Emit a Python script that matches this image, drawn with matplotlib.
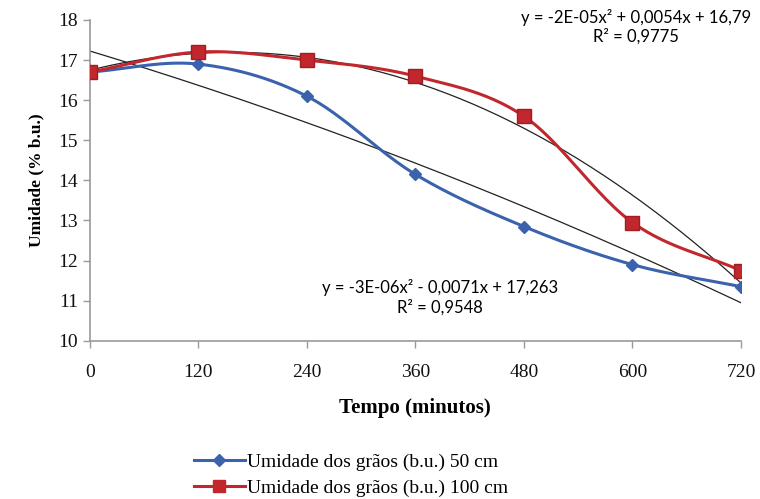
import numpy as np
import matplotlib
matplotlib.use("Agg")
import matplotlib.pyplot as plt
from matplotlib.lines import Line2D

tempo = [0, 120, 240, 360, 480, 600, 720]
umid_50 = [16.7, 16.9, 16.1, 14.15, 12.85, 11.9, 11.35]
umid_100 = [16.7, 17.2, 17.0, 16.6, 15.6, 12.95, 11.75]
eq_50 = "y = -3E-06x² - 0,0071x + 17,263\nR² = 0,9548"
eq_100 = "y = -2E-05x² + 0,0054x + 16,79\nR² = 0,9775"
lab_50 = "Umidade dos grãos (b.u.) 50 cm"
lab_100 = "Umidade dos grãos (b.u.) 100 cm"

BLUE = "#3b62ad"
RED = "#c1272d"


def smooth(x, y, n=30):
    # catmull-rom style smoothing, like Excel's "smoothed line"
    x = np.asarray(x, float); y = np.asarray(y, float)
    px = np.concatenate([[2 * x[0] - x[1]], x, [2 * x[-1] - x[-2]]])
    py = np.concatenate([[2 * y[0] - y[1]], y, [2 * y[-1] - y[-2]]])
    xs, ys = [], []
    t = np.linspace(0, 1, n)
    for i in range(1, len(px) - 2):
        for arr, out in ((px, xs), (py, ys)):
            p0, p1, p2, p3 = arr[i - 1], arr[i], arr[i + 1], arr[i + 2]
            out.extend(0.5 * (2 * p1 + (-p0 + p2) * t + (2 * p0 - 5 * p1 + 4 * p2 - p3) * t ** 2
                              + (-p0 + 3 * p1 - 3 * p2 + p3) * t ** 3))
    return xs, ys


fig = plt.figure(figsize=(7.6, 4.99), dpi=100)
ax = fig.add_axes([0.118, 0.317, 0.857, 0.643])

xx = np.linspace(0, 720, 200)
for ys in (umid_50, umid_100):
    c = np.polyfit(tempo, ys, 2)
    ax.plot(xx, np.polyval(c, xx), color="#222222", lw=0.9, zorder=2)

sx, sy = smooth(tempo, umid_50)
ax.plot(sx, sy, color=BLUE, lw=2.2, zorder=3)
ax.plot(tempo, umid_50, ls="none", marker="D", ms=6.5, color=BLUE, zorder=4)
sx, sy = smooth(tempo, umid_100)
ax.plot(sx, sy, color=RED, lw=2.2, zorder=3)
ax.plot(tempo, umid_100, ls="none", marker="s", ms=10, color=RED, mec="#a01d22", zorder=4)

ax.set_xlim(0, 720)
ax.set_ylim(10, 18)
ax.set_xticks(tempo)
ax.set_yticks(range(10, 19))
for s in ("top", "right"):
    ax.spines[s].set_visible(False)
for s in ("left", "bottom"):
    ax.spines[s].set_color("#999999")
    ax.spines[s].set_linewidth(1.2)
ax.tick_params(colors="#999999", length=5, width=1, labelcolor="#111111",
               labelsize=14)
ax.tick_params(axis="x", pad=12)
for lbl in ax.get_xticklabels() + ax.get_yticklabels():
    lbl.set_family("Liberation Serif")

ax.set_xlabel("Tempo (minutos)", family="Liberation Serif", fontsize=15,
              fontweight="bold", labelpad=12)
ax.set_ylabel("Umidade (% b.u.)", family="Liberation Serif", fontsize=12.5,
              fontweight="bold", labelpad=10)

ax.text(387, 11.08, eq_50, ha="center", va="center", fontsize=12,
        family="Lato", linespacing=1.2, clip_on=False)
ax.text(604, 17.83, eq_100, ha="center", va="center", fontsize=12,
        family="Lato", linespacing=1.2, clip_on=False)

handles = [Line2D([], [], color=BLUE, lw=2.2, marker="D", ms=6),
           Line2D([], [], color=RED, lw=2.2, marker="s", ms=9)]
fig.legend(handles, [lab_50, lab_100], loc="upper left",
           bbox_to_anchor=(0.245, 0.108), frameon=False, handlelength=2.6,
           handletextpad=0.15, labelspacing=0.45, borderaxespad=0,
           prop={"family": "Liberation Serif", "size": 14})

fig.savefig("out.png", dpi=100)
